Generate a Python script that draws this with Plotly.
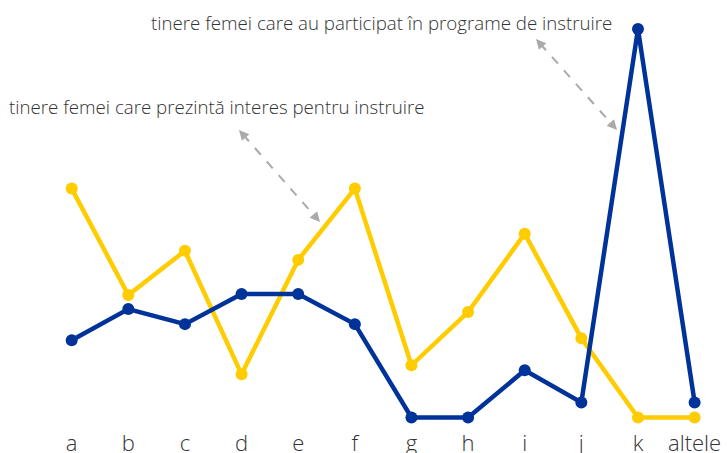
import plotly.graph_objects as go

categories = ["a", "b", "c", "d", "e", "f", "g", "h", "i", "j", "k", "altele"]
interes = [22.8, 12.2, 16.6, 4.3, 15.7, 22.8, 5.2, 10.5, 18.3, 7.9, 0.0, 0.0]
participat = [7.7, 10.8, 9.3, 12.3, 12.3, 9.3, 0.0, 0.0, 4.7, 1.5, 38.7, 1.5]
label_interes = "tinere femei care prezintă interes pentru instruire"
label_participat = "tinere femei care au participat în programe de instruire"

YELLOW = "#FFCC00"
BLUE = "#003399"
GRAY = "#AAAAAA"

W, H = 727, 453
ML, MR, MT, MB = 0, 0, 10, 25
X0, X1 = -1.266, 11.572
Y0, Y1 = -1.046, 40.59

def px2x(px):
    return X0 + (px - ML) / (W - ML - MR) * (X1 - X0)

def px2y(py):
    return Y0 + (H - MB - py) / (H - MT - MB) * (Y1 - Y0)

xs = list(range(len(categories)))

fig = go.Figure()
fig.add_trace(go.Scatter(x=xs, y=interes, mode="lines+markers",
                         line=dict(color=YELLOW, width=4.5),
                         marker=dict(color=YELLOW, size=12),
                         name=label_interes, showlegend=False))
fig.add_trace(go.Scatter(x=xs, y=participat, mode="lines+markers",
                         line=dict(color=BLUE, width=4.5),
                         marker=dict(color=BLUE, size=12),
                         name=label_participat, showlegend=False))

arrows = [((536, 39), (617, 130)), ((239, 130), (320, 222))]
for (ax_, ay_), (bx, by) in arrows:
    fig.add_shape(type="line", x0=px2x(ax_ + 4), y0=px2y(ay_ + 4.5),
                  x1=px2x(bx - 4), y1=px2y(by - 4.5),
                  line=dict(color=GRAY, width=2, dash="dash"))
    for (tx, ty), (sx, sy) in [(((ax_, ay_)), (bx, by)), ((bx, by), (ax_, ay_))]:
        dx, dy = sx - tx, sy - ty
        n = (dx * dx + dy * dy) ** 0.5
        fig.add_annotation(x=px2x(tx), y=px2y(ty), ax=dx / n * 10, ay=dy / n * 10,
                           xref="x", yref="y", axref="pixel", ayref="pixel",
                           text="", showarrow=True, arrowhead=2, arrowsize=1,
                           arrowwidth=2, arrowcolor=GRAY)

fig.add_annotation(x=px2x(381), y=px2y(22), xref="x", yref="y", text=label_participat,
                   showarrow=False, font=dict(size=18.7, color="#333333", family="Open Sans", weight=300))
fig.add_annotation(x=px2x(217), y=px2y(106), xref="x", yref="y", text=label_interes,
                   showarrow=False, font=dict(size=18.7, color="#333333", family="Open Sans", weight=300))

fig.update_layout(
    width=W, height=H,
    margin=dict(l=ML, r=MR, t=MT, b=MB, autoexpand=False),
    paper_bgcolor="white", plot_bgcolor="white",
    font=dict(family="Open Sans", color="#333333"),
    xaxis=dict(range=[X0, X1], tickmode="array", tickvals=xs, ticktext=categories,
               showgrid=False, zeroline=False, showline=False, ticks="",
               automargin=False,
               tickfont=dict(size=22, family="Open Sans", weight=300, color="#333333")),
    yaxis=dict(range=[Y0, Y1], showgrid=False, zeroline=False, showline=False,
               showticklabels=False, ticks="", automargin=False),
)

fig.write_html("out.html", config={"displayModeBar": False},
               post_script="document.body.style.margin='0';")
